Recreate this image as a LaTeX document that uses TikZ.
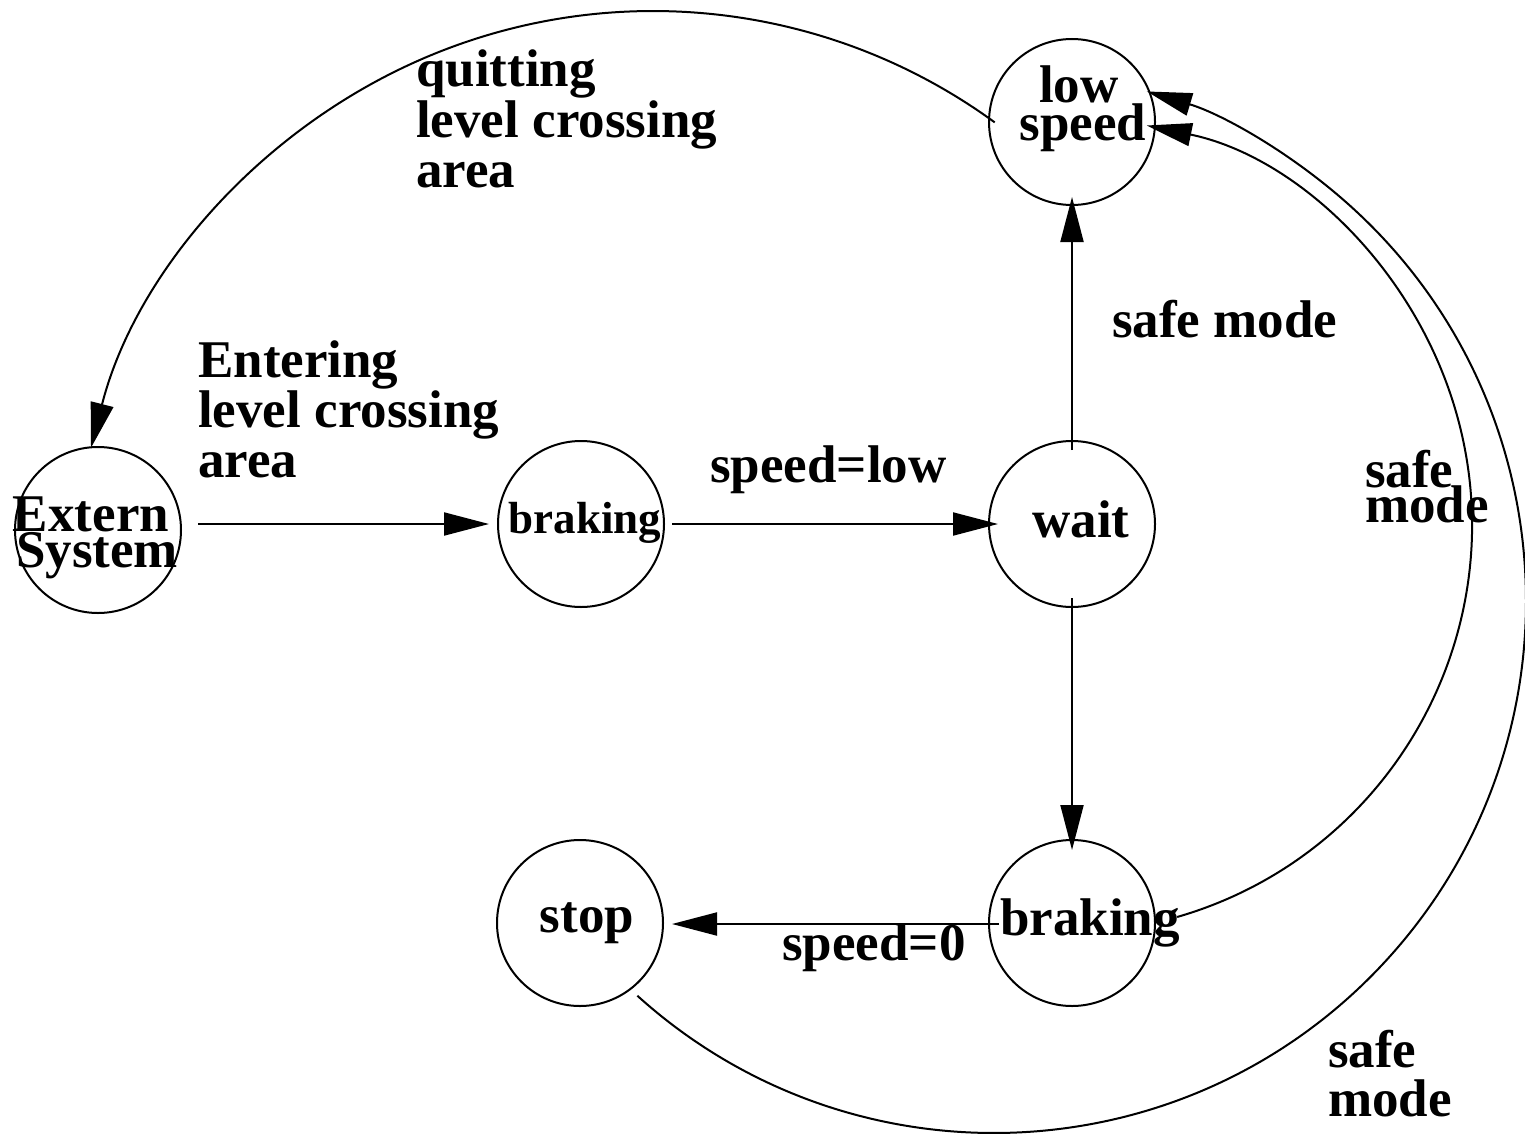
\documentclass[tikz,border=0pt]{standalone}
\usepackage{fontspec}
\setmainfont{Liberation Serif}
\usetikzlibrary{arrows.meta}
\begin{document}
\begin{tikzpicture}[x=1pt,y=-1pt,
  state/.style={circle,draw,line width=2pt,minimum size=166pt,inner sep=0pt},
  lbl/.style={font=\fontsize{53}{53}\selectfont\bfseries,inner sep=0pt},
  lblsmall/.style={font=\fontsize{45}{45}\selectfont\bfseries,inner sep=0pt},
  arr/.style={line width=2pt,-{Triangle[length=45pt,width=23pt]}},
  plain/.style={line width=2pt}]

\useasboundingbox (0,0) rectangle (1525,1137);

% states
\node[state] (low)  at (1072,122) {};
\node[state] (ext)  at (98,530)   {};
\node[state] (brk1) at (581,524)  {};
\node[state] (wait) at (1072,524) {};
\node[state] (brk2) at (1072,923) {};
\node[state] (stop) at (580,923)  {};

% state names
\node[lbl,anchor=base] (t-low1) at (1079,103) {low};
\node[lbl,anchor=base] (t-low2) at (1083,140) {speed};
\node[lbl,anchor=base] (t-ext1) at (91,531)  {Extern};
\node[lbl,anchor=base] (t-ext2) at (97,567)  {System};
\node[lblsmall,anchor=base] (t-brk1) at (585,533) {braking};
\node[lbl,anchor=base] (t-wait) at (1081,537) {wait};
\node[lbl,anchor=base] (t-brk2) at (1090,935) {braking};
\node[lbl,anchor=base] (t-stop) at (587,932)  {stop};

% transition labels
\node[lbl,anchor=base west] (q1) at (416,87)  {quitting};
\node[lbl,anchor=base west] (q2) at (416,137) {level crossing};
\node[lbl,anchor=base west] (q3) at (416,187) {area};
\node[lbl,anchor=base west] (n1) at (198,377) {Entering};
\node[lbl,anchor=base west] (n2) at (198,427) {level crossing};
\node[lbl,anchor=base west] (n3) at (198,477) {area};
\node[lbl,anchor=base west] (sl) at (710,482) {speed=low};
\node[lbl,anchor=base west] (sm1) at (1112,337) {safe mode};
\node[lbl,anchor=base west] (sm2a) at (1365,487) {safe};
\node[lbl,anchor=base west] (sm2b) at (1365,522) {mode};
\node[lbl,anchor=base west] (s0) at (782,960) {speed=0};
\node[lbl,anchor=base west] (sm3a) at (1328,1067) {safe};
\node[lbl,anchor=base west] (sm3b) at (1328,1116) {mode};

% straight transitions
\coordinate (ext-out)  at (198,524);
\coordinate (brk1-in)  at (489,524);
\coordinate (brk1-out) at (672,524);
\coordinate (wait-in)  at (998,524);
\coordinate (wait-up)  at (1072,450);
\coordinate (low-in)   at (1072,197);
\coordinate (wait-dn)  at (1072,598);
\coordinate (brk2-in)  at (1072,850);
\coordinate (brk2-out) at (999,924);
\coordinate (stop-in)  at (672,924);

\draw[arr] (ext-out) -- (brk1-in);
\draw[arr] (brk1-out) -- (wait-in);
\draw[arr] (wait-up) -- (low-in);
\draw[arr] (wait-dn) -- (brk2-in);
\draw[arr] (brk2-out) -- (stop-in);

% arcs: low speed -> Extern System, braking -> low speed, stop -> low speed
\path (653,591) ++(53.9:580pt) coordinate (low-out);
\draw[arr] (low-out) arc[start angle=53.9, end angle=165.7, radius=580pt];

\path (1064,525) ++(-73.9:408pt) coordinate (brk2-arc);
\draw[arr] (brk2-arc) arc[start angle=-73.9, end angle=78.3, radius=408pt];

\path (994,601) ++(-132.1:532pt) coordinate (stop-arc);
\draw[arr] (stop-arc) arc[start angle=-132.1, end angle=73.3, radius=532pt];

\end{tikzpicture}
\end{document}
